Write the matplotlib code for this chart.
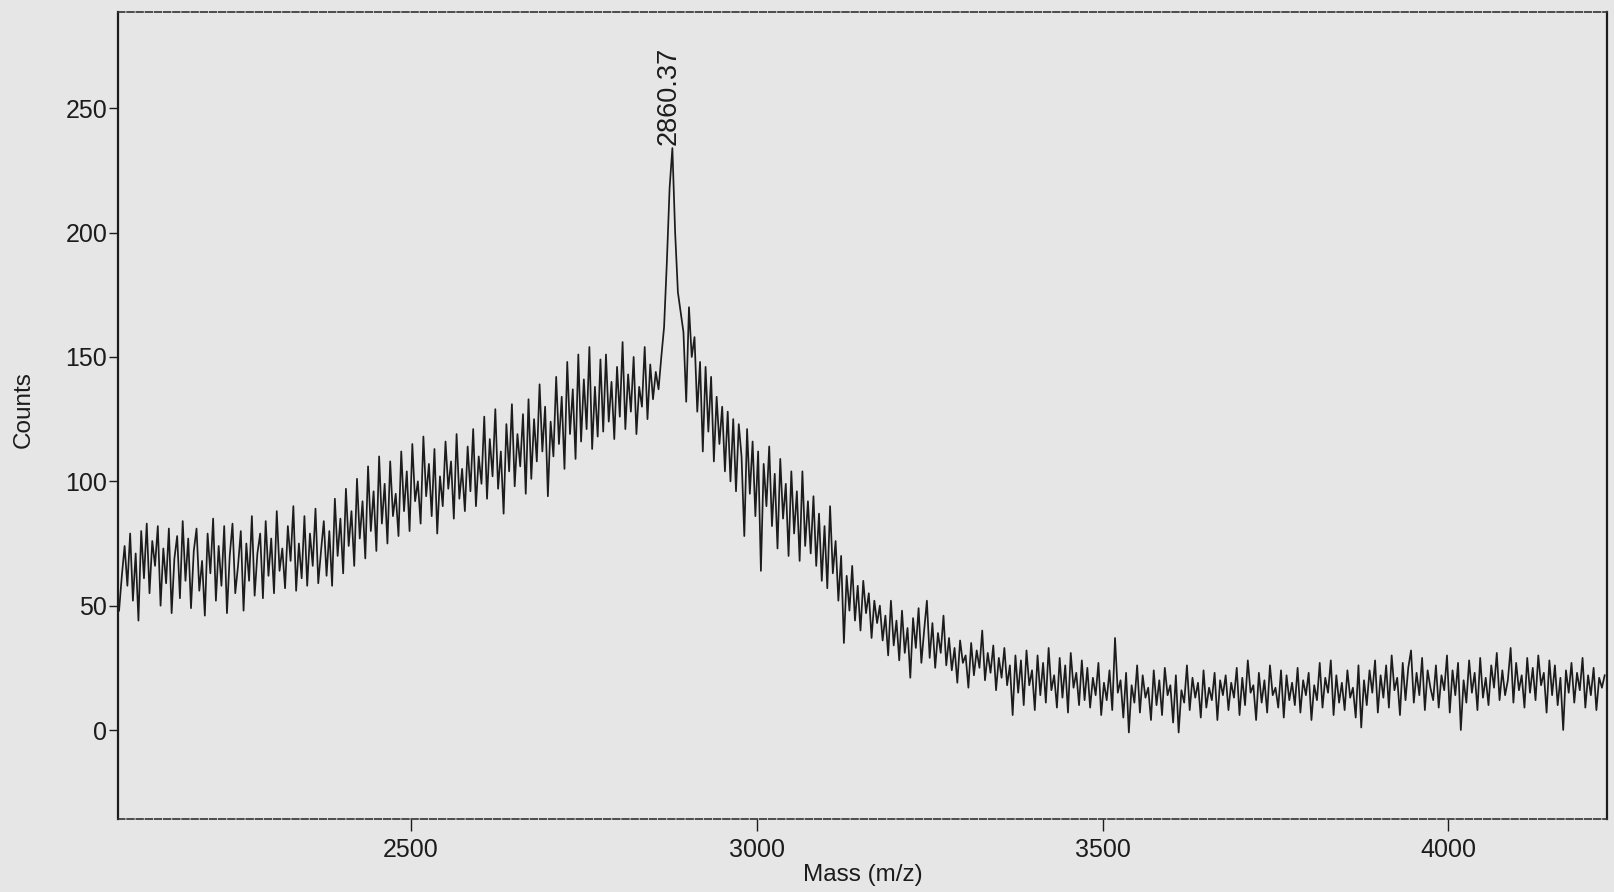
# Mass spectrum (MALDI-style scan), counts vs. m/z
import numpy as np
import matplotlib.pyplot as plt

plt.rcParams['font.family'] = ['Liberation Sans', 'DejaVu Sans']

# Sampling of the trace
MASS_START = 2078
MASS_STEP = 4

# Counts, one row per 100 m/z
counts = [
    48, 62, 74, 58, 79, 52, 71, 44, 80, 61, 83, 55, 76, 66, 82, 50, 73, 59, 81, 47, 69, 78, 53, 84, 60,
    77, 49, 72, 81, 56, 68, 46, 79, 63, 85, 52, 74, 58, 82, 47, 70, 83, 55, 66, 80, 48, 75, 60, 86, 54,
    71, 79, 53, 84, 62, 77, 55, 88, 64, 73, 57, 82, 68, 90, 56, 75, 61, 86, 58, 79, 66, 89, 59, 72, 84,
    62, 80, 58, 93, 70, 85, 63, 97, 74, 88, 66, 101, 77, 92, 69, 106, 80, 96, 72, 110, 83, 99, 75, 108, 86,
    95, 78, 112, 88, 104, 80, 115, 92, 100, 83, 118, 94, 107, 86, 113, 79, 102, 90, 116, 97, 108, 85, 119, 93, 105,
    88, 114, 96, 121, 90, 110, 99, 126, 93, 117, 102, 129, 97, 112, 87, 123, 104, 131, 98, 119, 106, 127, 95, 133, 101,
    125, 108, 139, 112, 130, 94, 124, 110, 142, 115, 134, 105, 148, 119, 137, 109, 151, 116, 141, 121, 154, 113, 138, 118, 149,
    120, 151, 124, 140, 117, 146, 126, 156, 121, 143, 128, 150, 119, 138, 130, 154, 125, 147, 133, 144, 137, 150, 162, 188, 218,
    234, 200, 176, 168, 160, 132, 170, 150, 158, 128, 148, 112, 146, 120, 142, 108, 134, 115, 130, 104, 128, 100, 125, 96, 123,
    110, 78, 121, 95, 116, 86, 112, 64, 107, 90, 114, 82, 103, 73, 109, 85, 99, 70, 104, 79, 96, 68, 104, 74, 92,
    71, 94, 66, 87, 60, 82, 57, 90, 63, 76, 52, 70, 35, 62, 48, 66, 44, 58, 40, 60, 47, 55, 37, 52, 43,
    50, 36, 46, 30, 52, 34, 44, 28, 48, 31, 41, 21, 45, 33, 49, 27, 40, 52, 29, 43, 25, 39, 31, 46, 26,
    37, 24, 33, 19, 36, 27, 30, 17, 35, 22, 32, 25, 40, 20, 31, 23, 34, 16, 29, 21, 33, 18, 26, 6, 30,
    15, 28, 10, 32, 18, 24, 8, 30, 14, 27, 11, 33, 16, 22, 9, 29, 13, 26, 7, 31, 17, 23, 10, 28, 12,
    25, 9, 21, 14, 27, 6, 19, 12, 24, 8, 37, 15, 20, 5, 23, -1, 18, 11, 26, 7, 22, 13, 17, 4, 24,
    10, 20, 6, 25, 14, 18, 3, 22, -1, 16, 11, 26, 8, 21, 13, 19, 5, 24, 9, 17, 12, 23, 4, 20, 14,
    22, 8, 19, 13, 25, 6, 21, 10, 28, 15, 18, 4, 23, 11, 20, 7, 26, 14, 17, 9, 24, 5, 22, 12, 19,
    10, 25, 7, 20, 14, 23, 4, 18, 12, 27, 9, 21, 15, 28, 6, 22, 11, 19, 8, 24, 13, 17, 5, 26, 1,
    20, 10, 24, 15, 28, 7, 22, 13, 26, 9, 30, 16, 21, 6, 27, 12, 25, 32, 11, 23, 14, 29, 8, 24, 17,
    12, 26, 9, 22, 16, 30, 7, 24, 14, 27, 0, 20, 11, 28, 15, 23, 8, 29, 13, 21, 10, 26, 17, 31, 12,
    24, 14, 20, 33, 11, 27, 16, 22, 9, 29, 15, 25, 12, 30, 18, 23, 7, 28, 14, 26, 10, 21, 0, 24, 15,
    27, 11, 23, 16, 29, 9, 22, 14, 25, 8, 21, 17, 22,
]
mass = MASS_START + MASS_STEP * np.arange(len(counts))

# Labelled peak
peak_label = "2860.37"
peak_idx = int(np.argmax(counts))

x_ticks = [2500, 3000, 3500, 4000]
y_ticks = [0, 50, 100, 150, 200, 250]

paper = '#e6e6e6'
ink = '#1c1c1c'

fig = plt.figure(figsize=(16.15, 8.92), dpi=100, facecolor=paper)
ax = fig.add_axes([0.0733, 0.0818, 0.9216, 0.9047], facecolor=paper)

ax.plot(mass, counts, color=ink, lw=1.25)

ax.annotate(peak_label, (mass[peak_idx], counts[peak_idx]),
            xytext=(-3, 2), textcoords='offset points',
            rotation=90, ha='center', va='bottom', fontsize=19.5, color=ink)

ax.set_xlim(2077, 4229)
ax.set_ylim(-35.8, 288.7)
ax.set_xticks(x_ticks)
ax.set_yticks(y_ticks)

ax.tick_params(axis='x', direction='out', length=8.5, width=1.0, pad=5,
               labelsize=18, colors=ink)
ax.tick_params(axis='y', direction='out', length=6.5, width=1.0, pad=1.5,
               labelsize=18, colors=ink)

# scanned frame: solid sides, broken top/bottom
for side in ['left', 'right']:
    ax.spines[side].set_linewidth(1.6)
    ax.spines[side].set_color(ink)
for side in ['top', 'bottom']:
    ax.spines[side].set_linewidth(1.2)
    ax.spines[side].set_color('#333333')
    ax.spines[side].set_linestyle((0, (4, 1.5)))

ax.set_xlabel('Mass (m/z)', fontsize=17.5, color=ink)
ax.set_ylabel('Counts', fontsize=17.5, color=ink)
ax.xaxis.set_label_coords(0.5, -0.056)
ax.yaxis.set_label_coords(-0.056, 0.507)

fig.savefig('out.png', dpi=100, facecolor=paper)
